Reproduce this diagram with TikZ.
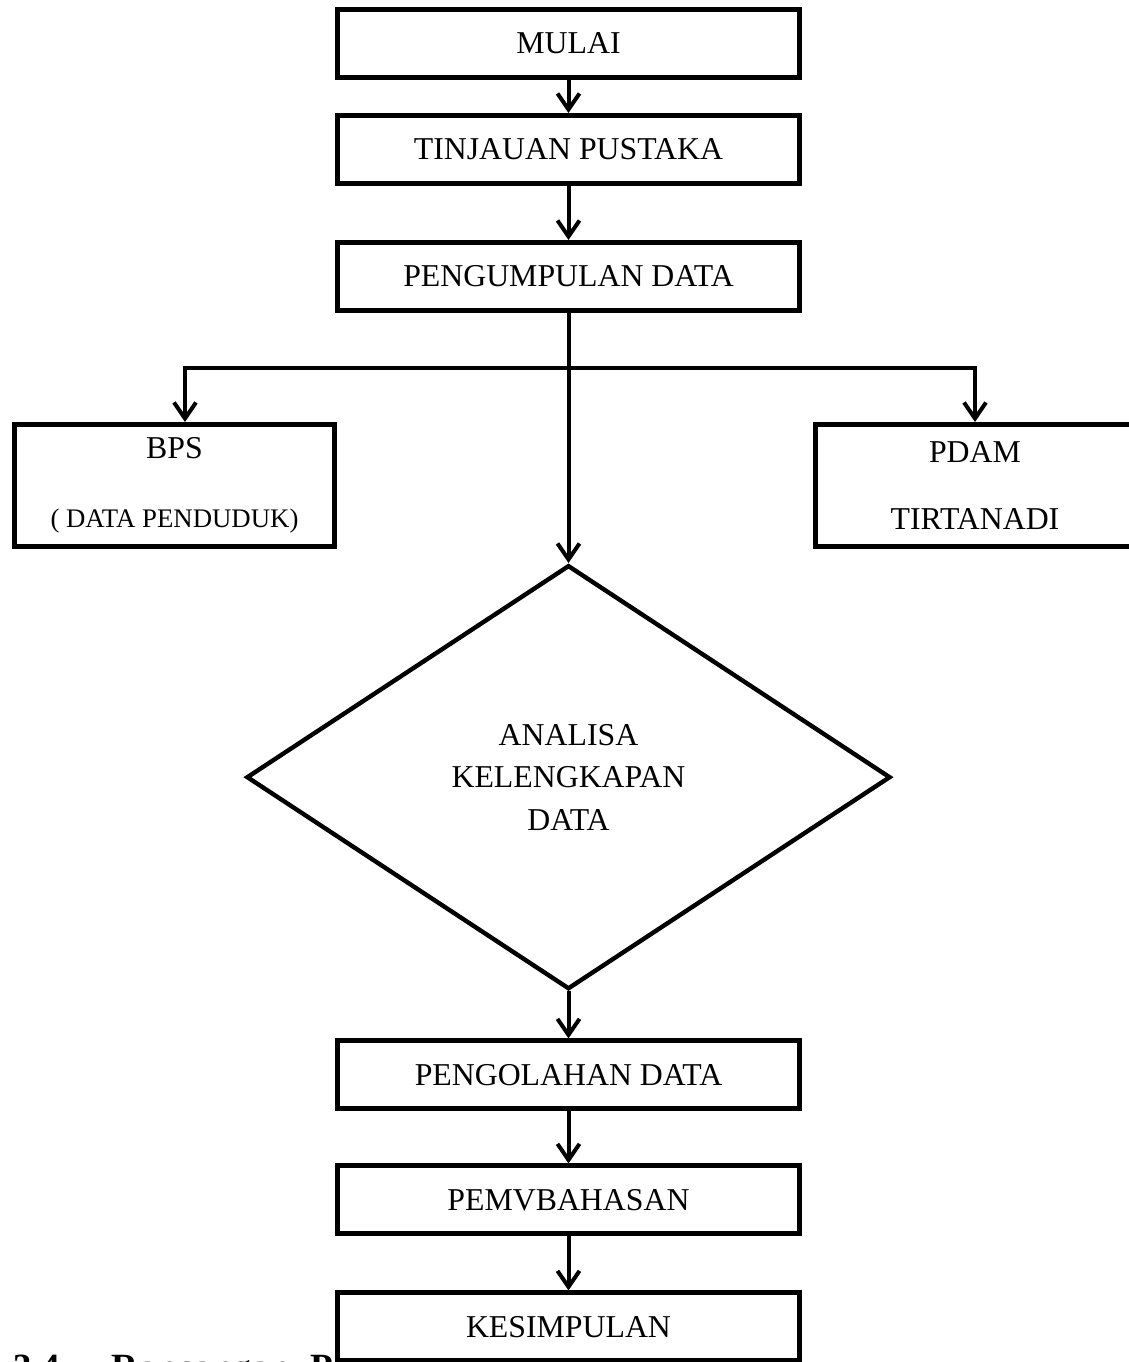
\documentclass[tikz,border=0pt]{standalone}
\usepackage{fontspec}
\setmainfont{Liberation Serif}
\usetikzlibrary
  {
    positioning,      % place nodes relative to other nodes
    shapes.geometric, % diamond shape
    arrows.meta,      % arrow heads
  }

\begin{document}
\begin{tikzpicture}
    [
      x=0.5pt, y=-0.5pt,
      font=\fontsize{15.9}{21.25}\selectfont,
      process/.style=
        {
          rectangle,
          draw,
          line width=2.5pt,
          fill=white,
          minimum width=231pt,
          minimum height=34pt,
        },
      source/.style=
        {
          rectangle,
          draw,
          line width=2.5pt,
          minimum width=160pt,
          minimum height=61pt,
          align=center,
        },
      decision/.style=
        {
          diamond,
          draw,
          line width=2.2pt,
          minimum width=322pt,
          minimum height=212pt,
          align=center,
        },
      flow/.style=
        {
          line width=2pt,
          -{Straight Barb[length=8pt,width=11pt]},
        }
    ]
    \useasboundingbox (0,0) rectangle (1129,1362);

    % heading of the page, partly under the last box
    \node (judul) [anchor=base west, inner sep=0pt,
                   font=\fontsize{18.5}{22}\selectfont\bfseries]
      at (13,1379) {3.4\hspace{26pt}Rancangan\hspace{10pt}P};

    \node (mulai) [process] at (568.5,43.5) {MULAI};
    \node (tinjauan) [process, below=16.5pt of mulai] {TINJAUAN PUSTAKA};
    \node (pengumpulan) [process, below=27pt of tinjauan] {PENGUMPULAN DATA};
    \node (analisa) [decision, below=125pt of pengumpulan]
      {ANALISA\\KELENGKAPAN\\DATA};
    \node (pengolahan) [process, below=23.5pt of analisa] {PENGOLAHAN DATA};
    \node (pembahasan) [process, below=26pt of pengolahan] {PEMVBAHASAN};
    \node (kesimpulan) [process, below=27pt of pembahasan] {KESIMPULAN};

    \node (bps) [source] at (174.5,485.5)
      {BPS\\[13pt]{\fontsize{13.4}{16}\selectfont ( DATA PENDUDUK)}};
    \node (pdam) [source] at (975,485.5) {PDAM\\[12pt]TIRTANADI};

    \coordinate (split) at (pengumpulan |- 0,368);

    \draw [flow] (mulai) -- (tinjauan);
    \draw [flow] (tinjauan) -- (pengumpulan);
    \draw [flow] (pengumpulan) -- (analisa);
    \draw [flow] (split) -| ([xshift=5.25pt]bps.north);
    \draw [flow] (split) -| (pdam);
    \draw [flow] (analisa) -- (pengolahan);
    \draw [flow] (pengolahan) -- (pembahasan);
    \draw [flow] (pembahasan) -- (kesimpulan);
  \end{tikzpicture}
\end{document}
